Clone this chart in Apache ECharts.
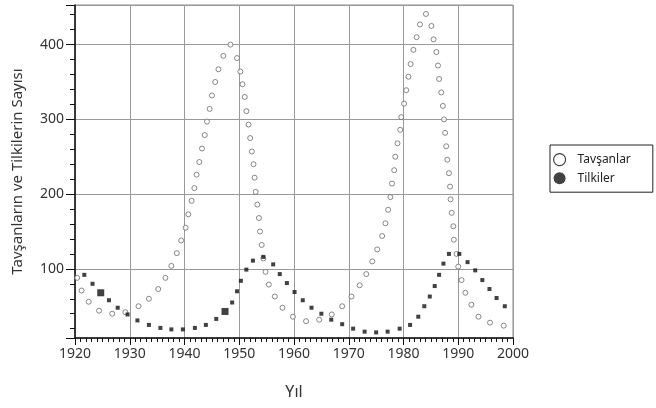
<!DOCTYPE html>
<html>
<head>
<meta charset="utf-8">
<script src="https://cdn.jsdelivr.net/npm/echarts@6/dist/echarts.min.js"></script>
<style>
  html, body { margin: 0; padding: 0; background: #fff; }
  #chart_div { width: 656px; height: 408px; }
</style>
</head>
<body>
<div id="chart_div"></div>
<script>
// Tavşanlar (rabbits): year, count
const rabbitYears = [1920.4, 1921.2, 1922.5, 1924.4, 1926.8, 1929.2, 1931.6, 1933.5, 1935.2, 1936.5,
  1937.6, 1938.6, 1939.4, 1940.2, 1940.7, 1941.3, 1941.8, 1942.2, 1942.7, 1943.2,
  1943.7, 1944.1, 1944.6, 1945.0, 1945.6, 1946.2, 1947.1, 1948.4, 1949.6, 1950.2,
  1950.6, 1951.0, 1951.3, 1951.7, 1952.0, 1952.3, 1952.6, 1952.8, 1953.0, 1953.3,
  1953.6, 1953.8, 1954.1, 1954.4, 1954.8, 1955.4, 1956.5, 1957.9, 1959.8, 1962.2,
  1964.6, 1966.9, 1968.8, 1970.5, 1972.0, 1973.2, 1974.3, 1975.2, 1976.1, 1976.7,
  1977.2, 1977.6, 1977.9, 1978.3, 1978.5, 1978.9, 1979.4, 1979.6, 1980.1, 1980.5,
  1980.9, 1981.3, 1981.8, 1982.4, 1983.0, 1984.1, 1985.1, 1985.5, 1986.0, 1986.3,
  1986.5, 1986.9, 1987.2, 1987.4, 1987.6, 1987.8, 1988.0, 1988.3, 1988.5, 1988.6,
  1988.8, 1989.1, 1989.2, 1989.7, 1990.0, 1990.6, 1991.3, 1992.4, 1993.7, 1995.8,
  1998.3]
const rabbitCounts = [88, 71, 56, 44, 40, 42, 50, 60, 73, 88,
  104, 121, 138, 155, 173, 191, 208, 226, 243, 261,
  279, 297, 314, 332, 350, 367, 385, 400, 382, 364,
  347, 330, 311, 293, 275, 257, 240, 222, 203, 186,
  168, 150, 132, 114, 96, 79, 63, 48, 36, 30,
  32, 39, 50, 63, 78, 93, 110, 126, 144, 161,
  179, 196, 214, 232, 250, 268, 286, 303, 321, 339,
  357, 374, 393, 410, 427, 441, 425, 407, 390, 372,
  354, 336, 318, 300, 282, 264, 246, 228, 210, 193,
  175, 157, 139, 120, 103, 85, 68, 52, 36, 28,
  24]

// Tilkiler (foxes): year, count
const foxYears = [1921.7, 1923.2, 1924.7, 1926.2, 1927.8, 1929.6, 1931.4, 1933.5, 1935.6, 1937.6,
  1939.7, 1941.9, 1943.9, 1945.8, 1947.4, 1948.7, 1949.6, 1950.3, 1951.3, 1952.5,
  1954.4, 1956.2, 1957.4, 1958.7, 1960.1, 1961.6, 1963.2, 1965.0, 1966.8, 1968.8,
  1970.8, 1972.9, 1975.0, 1977.1, 1979.3, 1981.2, 1982.7, 1983.8, 1984.8, 1985.7,
  1986.5, 1987.3, 1988.3, 1990.2, 1991.7, 1993.1, 1994.4, 1995.7, 1997.0, 1998.5]
const foxCounts = [92, 80, 68, 58, 48, 39, 31, 25, 21, 19,
  19, 21, 25, 33, 43, 55, 70, 84, 99, 111,
  116, 106, 93, 81, 69, 58, 48, 40, 32, 26,
  20, 16, 15, 16, 20, 25, 36, 50, 63, 77,
  92, 107, 120, 120, 109, 98, 85, 73, 61, 50]

// two fox marks drawn larger in the original
const bigFoxIndex = [2, 14]

const seriesNames = ['Tavşanlar', 'Tilkiler']
const xName = 'Yıl'
const yName = 'Tavşanların ve Tilkilerin Sayısı'

const font = 'Noto Sans'

function pairs(xs, ys) {
  return xs.map(function (x, i) { return [x, ys[i]] })
}

var myChart = echarts.init(document.getElementById('chart_div'), null, { renderer: 'canvas' })

var option = {
  animation: false,
  backgroundColor: '#fff',
  textStyle: { fontFamily: font },
  grid: {
    left: 75, right: 143, top: 5, bottom: 70,
    show: true, borderColor: '#8a8a8a', borderWidth: 1
  },
  legend: {
    orient: 'vertical',
    left: 550, top: 145,
    padding: [8, 22, 8, 3],
    itemGap: 6,
    itemWidth: 12, itemHeight: 12,
    borderColor: '#222', borderWidth: 1,
    textStyle: { fontFamily: font, fontSize: 12, color: '#222', padding: [0, 0, 0, 7] },
    data: [
      { name: seriesNames[0], icon: 'circle', itemStyle: { color: '#fff', borderColor: '#111', borderWidth: 1.2 } },
      { name: seriesNames[1], icon: 'circle', itemStyle: { color: '#111' } }
    ]
  },
  xAxis: {
    type: 'value',
    min: 1920, max: 2000, interval: 10,
    name: xName, nameLocation: 'middle', nameGap: 46,
    nameTextStyle: { fontFamily: font, fontSize: 16, color: '#333' },
    axisLine: { onZero: false, lineStyle: { color: '#111', width: 1.5 } },
    axisTick: { length: 7, lineStyle: { color: '#111' } },
    minorTick: { show: true, splitNumber: 10, length: 4, lineStyle: { color: '#111' } },
    axisLabel: {
      fontFamily: font, fontSize: 14, color: '#333', margin: 9,
      formatter: function (v) { return String(v) }
    },
    splitLine: { show: true, lineStyle: { color: '#999', width: 1 } }
  },
  yAxis: {
    type: 'value',
    min: 7.5, max: 453,
    name: yName, nameLocation: 'middle', nameGap: 50,
    nameTextStyle: { fontFamily: font, fontSize: 15, color: '#333' },
    axisLine: { lineStyle: { color: '#111', width: 1.5 } },
    axisTick: { length: 9, lineStyle: { color: '#111' } },
    minorTick: { show: true, splitNumber: 5, length: 5, lineStyle: { color: '#111' } },
    axisLabel: { fontFamily: font, fontSize: 14, color: '#333', margin: 11, showMinLabel: false, showMaxLabel: false },
    splitLine: { show: true, lineStyle: { color: '#999', width: 1 } }
  },
  series: [
    {
      name: seriesNames[0],
      type: 'scatter',
      symbol: 'circle',
      symbolSize: 5,
      itemStyle: { color: '#fff', borderColor: '#6a6a6a', borderWidth: 1 },
      data: pairs(rabbitYears, rabbitCounts)
    },
    {
      name: seriesNames[1],
      type: 'scatter',
      symbol: 'rect',
      symbolSize: function (val, params) {
        return bigFoxIndex.indexOf(params.dataIndex) > -1 ? 7 : 4
      },
      itemStyle: { color: '#111' },
      data: pairs(foxYears, foxCounts)
    }
  ]
}

myChart.setOption(option)
</script>
</body>
</html>
